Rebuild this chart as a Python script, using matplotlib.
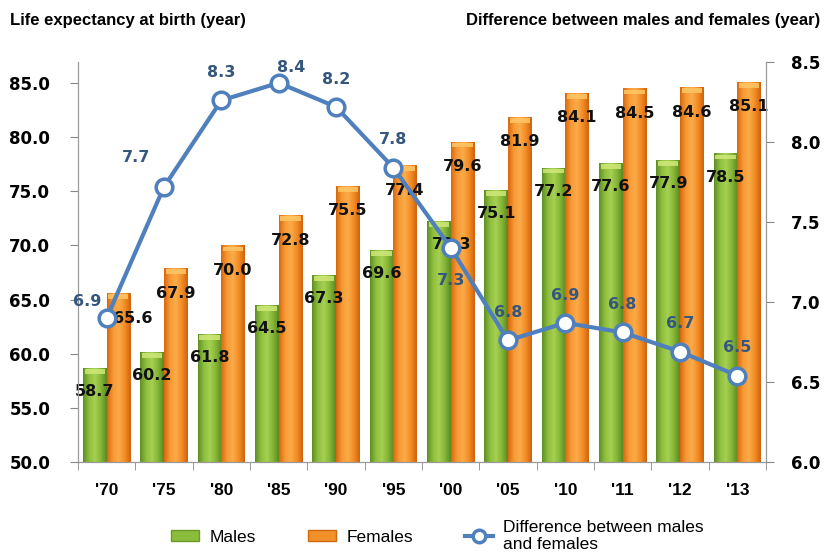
import matplotlib
matplotlib.use('Agg')
import matplotlib.pyplot as plt
import numpy as np
from matplotlib.colors import LinearSegmentedColormap
from matplotlib.lines import Line2D
from matplotlib.patches import Patch

years = ["'70", "'75", "'80", "'85", "'90", "'95", "'00", "'05", "'10", "'11", "'12", "'13"]
males = [58.7, 60.2, 61.8, 64.5, 67.3, 69.6, 72.3, 75.1, 77.2, 77.6, 77.9, 78.5]
females = [65.6, 67.9, 70.0, 72.8, 75.5, 77.4, 79.6, 81.9, 84.1, 84.5, 84.6, 85.1]
diff = [6.9, 7.72, 8.26, 8.37, 8.22, 7.84, 7.34, 6.76, 6.87, 6.81, 6.69, 6.54]

narrow = ['Liberation Sans', 'DejaVu Sans']
numfont = ['DejaVu Sans']

fig = plt.figure(figsize=(8.25, 5.54), dpi=100)
ax = fig.add_axes([0.0945, 0.166, 0.834, 0.722])
ax2 = ax.twinx()

x = np.arange(len(years))
w = 0.41
green = LinearSegmentedColormap.from_list('g', ['#5f8f25', '#8fbf3e', '#a6d052', '#86b536', '#5a8a22'])
orange = LinearSegmentedColormap.from_list('o', ['#d8680e', '#f79a35', '#fbab4a', '#f38c25', '#d0620c'])

ylo, yhi = 50, 86.94
bm = ax.bar(x - w/2, np.array(males) - ylo, w, bottom=ylo, color='#8cbc3c', zorder=2)
bf = ax.bar(x + w/2, np.array(females) - ylo, w, bottom=ylo, color='#f39029', zorder=2)

#cylinder look: horizontal gradient clipped to each bar, lighter cap at top
grad = np.linspace(0, 1, 64).reshape(1, -1)
for bars, cm, cap in ((bm, green, '#cfe878'), (bf, orange, '#ffc766')):
    for b in bars:
        x0, y0, bw, bh = b.get_x(), b.get_y(), b.get_width(), b.get_height()
        im = ax.imshow(grad, cmap=cm, extent=(x0, x0 + bw, y0, y0 + bh), aspect='auto', zorder=2.1)
        im.set_clip_path(b)
        ax.bar(x0 + bw/2, 0.45, bw*0.86, bottom=y0 + bh - 0.55, color=cap, zorder=2.2, alpha=0.85)

#a few bar labels are nudged right in the original
moff = {6: 9}
foff = {0: 10}
for i in range(len(years)):
    ax.annotate('%.1f' % males[i], (x[i] - w/2, males[i]), xytext=(moff.get(i, 0), -17), textcoords='offset points',
                ha='center', va='center', fontsize=11.5, fontweight='bold', family=numfont, color='#111111', zorder=5)
    ax.annotate('%.1f' % females[i], (x[i] + w/2, females[i]), xytext=(foff.get(i, 0), -18), textcoords='offset points',
                ha='center', va='center', fontsize=11.5, fontweight='bold', family=numfont, color='#111111', zorder=5)

ax.set_xlim(-0.5, len(years) - 0.5)
ax.set_ylim(ylo, yhi)
ax.set_yticks(np.arange(50, 86, 5))
ax.set_yticklabels(['%.1f' % v for v in np.arange(50, 86, 5)], fontsize=12, fontweight='bold', family=numfont)
ax.set_xticks(x)
ax.set_xticklabels(years, fontsize=12.5, fontweight='bold', family=narrow)
ax.set_xticks(np.arange(-0.5, len(years), 1), minor=True)
ax.tick_params(axis='x', which='major', length=0, pad=15)
ax.tick_params(axis='x', which='minor', length=6, color='#888888', direction='out')
ax.tick_params(axis='y', length=6, color='#888888', pad=14)

ax2.plot(x, diff, color='#4f80bd', lw=3, marker='o', ms=12, mfc='white', mec='#4f80bd', mew=2.5, zorder=6)
ax2.set_ylim(6.0, 8.5)
ax2.set_yticks([6.0, 6.5, 7.0, 7.5, 8.0, 8.5])
ax2.set_yticklabels(['6.0', '6.5', '7.0', '7.5', '8.0', '8.5'], fontsize=12, fontweight='bold', family=numfont)
ax2.tick_params(axis='y', length=6, color='#888888', pad=12)

#label offsets (points) for the difference line
offs = {0: (-14, 12), 1: (-20, 21), 3: (9, 11), 6: (0, -24)}
for i in range(len(years)):
    dx, dy = offs.get(i, (0, 20))
    ax2.annotate('%.1f' % diff[i], (x[i], diff[i]), xytext=(dx, dy), textcoords='offset points',
                 ha='center', va='center', fontsize=11.5, fontweight='bold', family=numfont, color='#35577e', zorder=7)

for a in (ax, ax2):
    a.spines['top'].set_visible(False)
    for s in ('left', 'right', 'bottom'):
        a.spines[s].set_color('#999999')

fig.text(0.012, 0.963, 'Life expectancy at birth (year)', fontsize=12, fontweight='bold', family=narrow, va='center')
fig.text(0.994, 0.963, 'Difference between males and females (year)', fontsize=12, fontweight='bold', family=narrow,
         va='center', ha='right')

handles = [Patch(facecolor='#8cbc3c', edgecolor='#6a9a2a'),
           Patch(facecolor='#f39029', edgecolor='#d06a10'),
           Line2D([], [], color='#4f80bd', lw=3, marker='o', ms=9, mfc='white', mec='#4f80bd', mew=2.5)]
fig.legend(handles, ['Males', 'Females', 'Difference between males\nand females'], loc='center left',
           bbox_to_anchor=(0.193, 0.033), ncol=3, frameon=False, handlelength=1.6, handleheight=0.6,
           columnspacing=3.0, handletextpad=0.6, labelspacing=0.1, borderpad=0.2,
           prop={'family': narrow, 'size': 12.5})

fig.savefig('out.png', dpi=100)
